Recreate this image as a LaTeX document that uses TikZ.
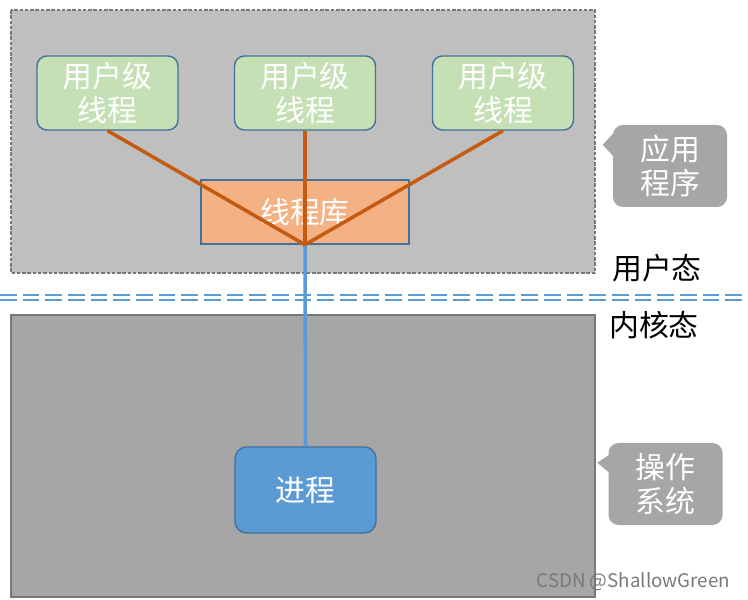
\documentclass[tikz,border=0pt]{standalone}
\usepackage{fontspec}
\setmainfont{Noto Sans CJK SC}
\definecolor{userbg}{RGB}{191,191,191}
\definecolor{kernbg}{RGB}{166,166,166}
\definecolor{edgegray}{RGB}{120,120,120}
\definecolor{ulgreen}{RGB}{197,224,180}
\definecolor{libpeach}{RGB}{244,177,131}
\definecolor{rust}{RGB}{197,90,17}
\definecolor{skyblue}{RGB}{91,155,213}
\definecolor{boxblue}{RGB}{65,113,156}
\definecolor{callgray}{RGB}{166,166,166}
\begin{document}
\begin{tikzpicture}[x=0.03cm,y=-0.03cm,
  txt/.style={font=\fontsize{25.5}{29}\selectfont},
  ulthread/.style={txt,draw=boxblue,line width=1.2pt,fill=ulgreen,rounded corners=0.3cm,
    text=white,align=center,minimum width=4.23cm,minimum height=2.22cm,inner sep=0pt},
  callbox/.style={txt,fill=callgray,rounded corners=0.3cm,text=white,align=center,
    minimum width=3.42cm,minimum height=2.46cm,inner sep=0pt},
  sepline/.style={skyblue,line width=1.4pt,dash pattern=on 0.5cm off 0.18cm}]
\useasboundingbox (0,0) rectangle (748,600);
% user space and kernel space
\draw[fill=userbg,draw=edgegray,line width=1pt,dash pattern=on 3pt off 1.5pt] (11,10) rectangle (595,273);
\draw[fill=kernbg,draw=edgegray,line width=1pt] (11,315) rectangle (595,597);
\draw[sepline] (0,295) -- (748,295);
\draw[sepline] (0,300) -- (748,300);
% threads
\node[ulthread] (t1) at (107.5,93) {用户级\\线程};
\node[ulthread] (t2) at (305,93) {用户级\\线程};
\node[ulthread] (t3) at (503,93) {用户级\\线程};
\node[txt,draw=boxblue,line width=1.2pt,fill=libpeach,text=white,minimum width=6.24cm,
  minimum height=1.92cm,inner sep=0pt] (lib) at (305,212) {线程库};
\node[txt,draw=boxblue,line width=1.2pt,fill=skyblue,rounded corners=0.35cm,text=white,
  minimum width=4.23cm,minimum height=2.58cm,inner sep=0pt] (proc) at (305.5,490) {进程};
\draw[skyblue,line width=3pt] (lib.south) -- (proc.north);
\foreach \t in {t1,t2,t3}
  \draw[rust,line width=3pt] (\t.south) -- (lib.south);
% callouts
\node[callbox] (app) at (670,166) {应用\\程序};
\fill[callgray] (app.north west) ++(1,8) -- ++(-11,12) -- ++(11,12) -- cycle;
\node[callbox] (os) at (665.5,484) {操作\\系统};
\fill[callgray] (os.north west) ++(1,12) -- ++(-12,8) -- ++(12,10) -- cycle;
\node[txt] (umode) at (657,268) {用户态};
\node[txt] (kmode) at (654,325) {内核态};
\node[anchor=east,text=edgegray,font=\fontsize{16}{18}\selectfont] (mark) at (734,582) {CSDN @ShallowGreen};
\end{tikzpicture}
\end{document}
